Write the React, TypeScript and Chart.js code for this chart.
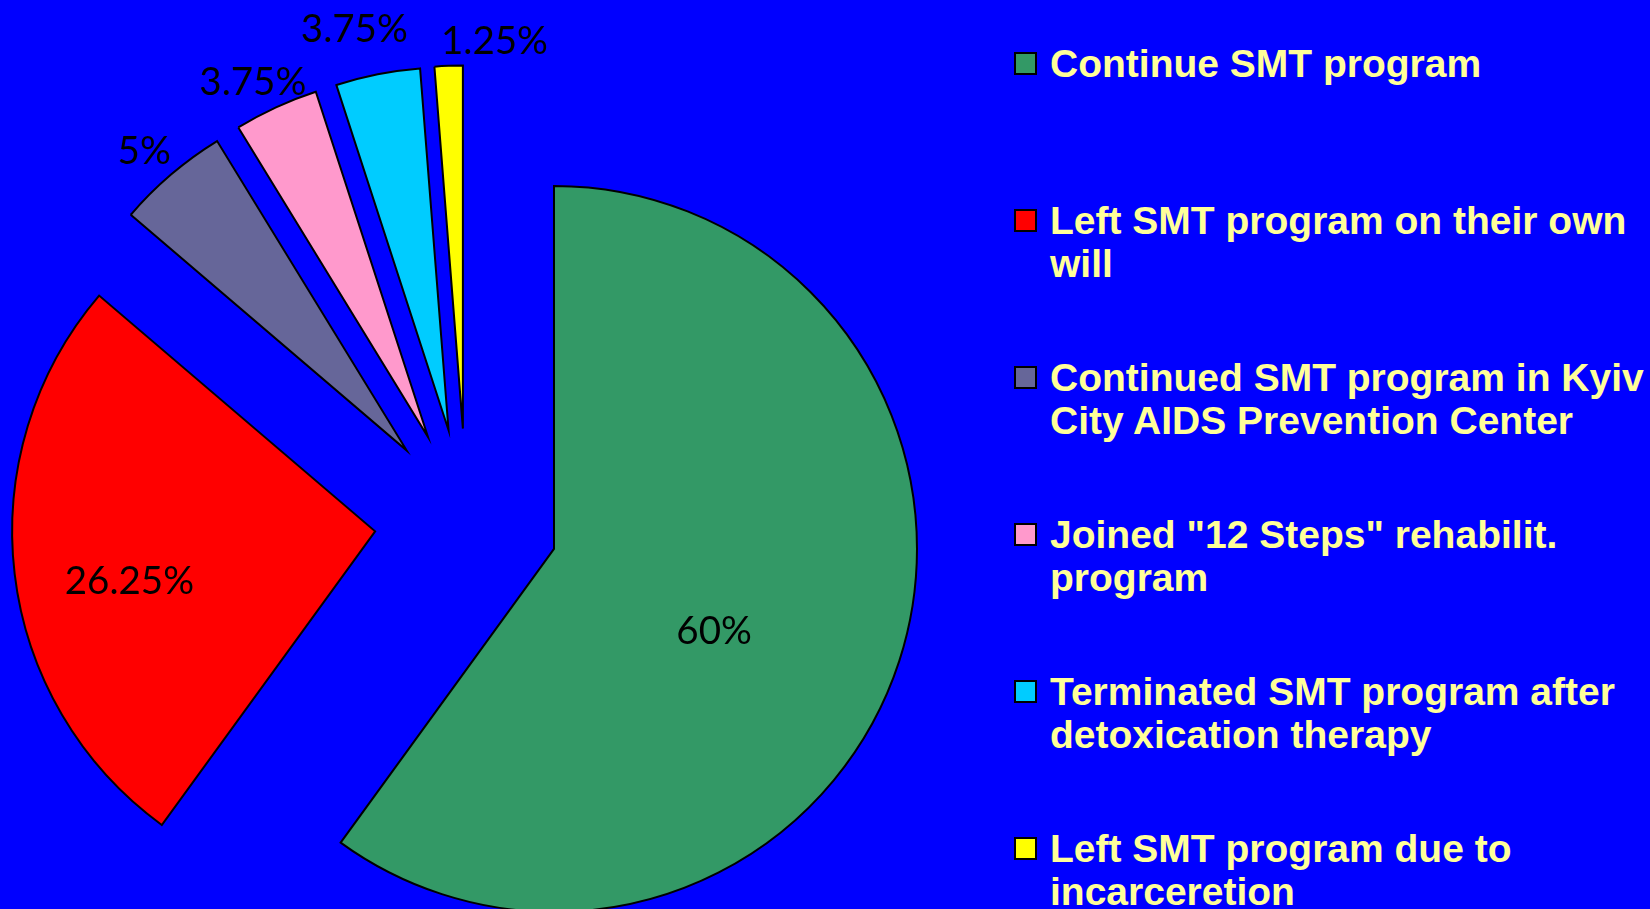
import React, { useEffect, useRef } from "react";
import { Chart, registerables } from "chart.js";

Chart.register(...registerables);

// ---- data ----
const categories = [
  "Continue SMT program",
  "Left SMT program on their own will",
  "Continued SMT program in Kyiv City AIDS Prevention Center",
  "Joined \"12 Steps\" rehabilit. program",
  "Terminated SMT program after detoxication therapy",
  "Left SMT program due to incarceretion",
];
const legendLines = [
  ["Continue SMT program"],
  ["Left SMT program on their own", "will"],
  ["Continued SMT program in Kyiv", "City AIDS Prevention Center"],
  ["Joined \"12 Steps\" rehabilit.", "program"],
  ["Terminated SMT program after", "detoxication therapy"],
  ["Left SMT program due to", "incarceretion"],
];
const values = [60, 26.25, 5, 3.75, 3.75, 1.25];
const sliceColors = ["#339966", "#FF0000", "#666699", "#FF99CC", "#00CCFF", "#FFFF00"];

// ---- style ----
const BG = "#0000FF";
const LEGEND_TEXT = "#FFFF99";
const EXPLODE = 92;
const RADIUS = 363;
const labelRadius = [0.495, 0.69, 1.098, 1.093, 1.137, 1.074];
const labelAngleShift = [9, -4.4, -0.7, -1.45, -1.95, 6.9];

const explodePlugin = {
  id: "explode",
  beforeDatasetDraw(chart: any, args: any) {
    const meta = chart.getDatasetMeta(args.index);
    const ca = chart.chartArea;
    const cx = (ca.left + ca.right) / 2;
    const cy = (ca.top + ca.bottom) / 2;
    meta.data.forEach((arc: any) => {
      const mid = (arc.startAngle + arc.endAngle) / 2;
      arc.x = cx + Math.cos(mid) * EXPLODE;
      arc.y = cy + Math.sin(mid) * EXPLODE;
    });
  },
};

const labelPlugin = {
  id: "sliceLabels",
  afterDatasetsDraw(chart: any) {
    const ctx = chart.ctx;
    const meta = chart.getDatasetMeta(0);
    ctx.save();
    ctx.font = "38.5px Lato";
    ctx.fillStyle = "#000000";
    ctx.textAlign = "center";
    ctx.textBaseline = "alphabetic";
    meta.data.forEach((arc: any, i: number) => {
      const mid = (arc.startAngle + arc.endAngle) / 2 + (labelAngleShift[i] * Math.PI) / 180;
      const r = arc.outerRadius * labelRadius[i];
      ctx.fillText(values[i] + "%", arc.x + Math.cos(mid) * r, arc.y + Math.sin(mid) * r + 13.8);
    });
    ctx.restore();
  },
};

export default function App() {
  const ref = useRef<HTMLCanvasElement>(null);
  useEffect(() => {
    const chart = new Chart(ref.current as HTMLCanvasElement, {
      type: "pie",
      data: {
        labels: categories,
        datasets: [
          {
            data: values,
            backgroundColor: sliceColors,
            borderColor: "#000000",
            borderWidth: 2,
            borderJoinStyle: "miter",
            radius: RADIUS,
          } as any,
        ],
      },
      options: {
        responsive: false,
        animation: false,
        events: [],
        layout: { padding: 0 },
        plugins: { legend: { display: false }, tooltip: { enabled: false } },
      },
      plugins: [explodePlugin, labelPlugin],
    });
    return () => chart.destroy();
  }, []);

  const ITEM_TOP = 41.5;
  const ITEM_STEP = 157;

  return (
    <div
      style={{
        position: "fixed",
        left: 0,
        top: 0,
        width: 1650,
        height: 909,
        background: BG,
        overflow: "hidden",
      }}
    >
      <canvas
        ref={ref}
        width={933}
        height={1041}
        style={{ position: "absolute", left: 0, top: 0, width: 933, height: 1041 }}
      />
      {legendLines.map((lines, i) => (
        <React.Fragment key={i}>
          <div
            style={{
              position: "absolute",
              left: 1014,
              top: ITEM_TOP + ITEM_STEP * i + 10.5,
              width: 19,
              height: 19,
              background: sliceColors[i],
              border: "2px solid #000",
            }}
          />
          <div
            style={{
              position: "absolute",
              left: 1050,
              top: ITEM_TOP + ITEM_STEP * i,
              font: "bold 39px 'Liberation Sans', Arial, sans-serif",
              lineHeight: "43px",
              color: LEGEND_TEXT,
              whiteSpace: "nowrap",
            }}
          >
            {lines.map((l, j) => (
              <div key={j}>{l}</div>
            ))}
          </div>
        </React.Fragment>
      ))}
    </div>
  );
}
